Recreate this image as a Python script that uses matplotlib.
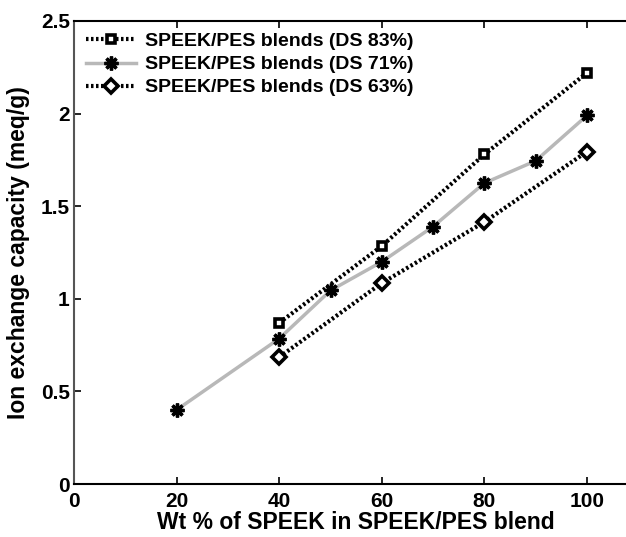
import matplotlib
matplotlib.use("Agg")
import matplotlib.pyplot as plt

plt.rcParams['font.family'] = ['Liberation Sans', 'DejaVu Sans']
plt.rcParams['font.weight'] = 'bold'

# Ion exchange capacity of SPEEK/PES blends
x_ds83 = [40, 60, 80, 100]
y_ds83 = [0.87, 1.285, 1.78, 2.22]

x_ds71 = [20, 40, 50, 60, 70, 80, 90, 100]
y_ds71 = [0.40, 0.785, 1.045, 1.20, 1.39, 1.625, 1.745, 1.99]

x_ds63 = [40, 60, 80, 100]
y_ds63 = [0.685, 1.085, 1.415, 1.795]

labels = ["SPEEK/PES blends (DS 83%)",
          "SPEEK/PES blends (DS 71%)",
          "SPEEK/PES blends (DS 63%)"]

xticks = [0, 20, 40, 60, 80, 100]
yticks = [0, 0.5, 1, 1.5, 2, 2.5]
yticklabels = ["0", "0.5", "1", "1.5", "2", "2.5"]

W, H = 626, 537
fig = plt.figure(figsize=(W / 100, H / 100), dpi=100)
left, bottom, top = 74, 484, 21
xmax = 110
px_per_unit = 5.13
ax = fig.add_axes([left / W, (H - bottom) / H,
                   xmax * px_per_unit / W, (bottom - top) / H])

ax.plot(x_ds83, y_ds83, linestyle=(0, (0.6, 0.6)), color='black', lw=3,
        marker='s', markersize=6, markerfacecolor='white',
        markeredgecolor='black', markeredgewidth=2.6, label=labels[0])
ax.plot(x_ds71, y_ds71, linestyle='-', color='#b8b8b8', lw=2.5,
        marker=(8, 2, 0), markersize=10, markerfacecolor='black',
        markeredgecolor='black', markeredgewidth=2.4, label=labels[1])
ax.plot(x_ds63, y_ds63, linestyle=(0, (0.6, 0.6)), color='black', lw=3,
        marker='D', markersize=7.5, markerfacecolor='white',
        markeredgecolor='black', markeredgewidth=2.6, label=labels[2])

ax.set_xlim(0, xmax)
ax.set_ylim(0, 2.5)
ax.set_xticks(xticks)
ax.set_xticklabels([str(t) for t in xticks])
ax.set_yticks(yticks)
ax.set_yticklabels(yticklabels)
ax.tick_params(direction='in', top=True, right=False, length=5, width=1.2,
               labelsize=15)
ax.tick_params(axis='x', pad=6)
ax.tick_params(axis='y', pad=3)
for lbl in ax.get_xticklabels() + ax.get_yticklabels():
    lbl.set_fontweight('bold')
for s in ['left', 'bottom', 'top']:
    ax.spines[s].set_linewidth(1.5)
ax.spines['left'].set_color('#555555')
ax.spines['right'].set_visible(False)

ax.set_xlabel("Wt % of SPEEK in SPEEK/PES blend", fontsize=16.5,
              fontweight='bold', labelpad=0)
ax.set_ylabel("Ion exchange capacity (meq/g)", fontsize=16.5,
              fontweight='bold', labelpad=8)

leg = ax.legend(loc='upper left', bbox_to_anchor=(0.0, 1.0), frameon=False,
                fontsize=14, handlelength=2.6, handletextpad=0.45,
                labelspacing=0.28, borderaxespad=0.2)
for t in leg.get_texts():
    t.set_fontweight('bold')

fig.savefig("out.png", dpi=100)
